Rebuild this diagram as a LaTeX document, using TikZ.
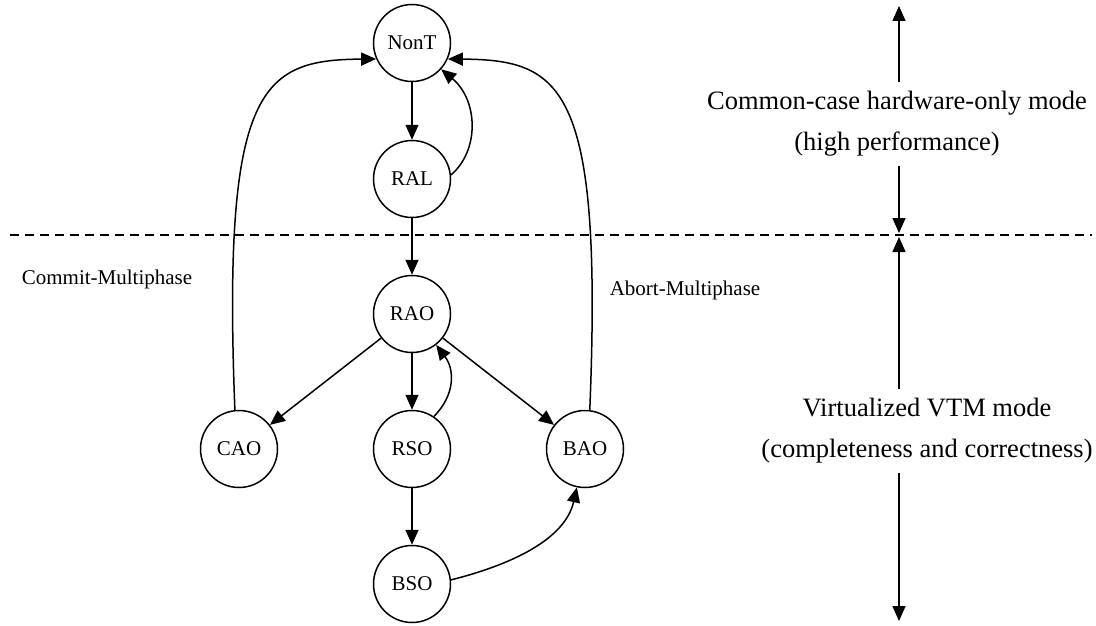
\documentclass[tikz,border=0pt]{standalone}
\usepackage{fontspec}
\setmainfont{Liberation Serif}
\usetikzlibrary{arrows.meta}
\begin{document}
\begin{tikzpicture}[x=1pt,y=-1pt,
  st/.style={circle,draw,line width=1.5pt,minimum size=77pt,inner sep=0pt,font=\fontsize{21}{25}\selectfont},
  edge/.style={line width=1.5pt,-{Triangle[length=15pt,width=13pt]}},
  lab/.style={font=\fontsize{21}{25}\selectfont,inner sep=0pt},
  side/.style={font=\fontsize{26.5}{41}\selectfont,align=center,inner xsep=0pt,inner ysep=9pt},
  sep/.style={line width=1.2pt,dash pattern=on 9pt off 6pt}]
\useasboundingbox (0,0) rectangle (1096,626);

% separator
\coordinate (dl) at (10,235);
\coordinate (dr) at (1092,235);
\draw[sep] (dl) -- (dr);

% states
\node[st] (NonT) at (412,43)  {NonT};
\node[st] (RAL)  at (412,179) {RAL};
\node[st] (RAO)  at (412,314) {RAO};
\node[st] (RSO)  at (412,449) {RSO};
\node[st] (BSO)  at (412,584) {BSO};
\node[st] (CAO)  at (239,449) {CAO};
\node[st] (BAO)  at (585,449) {BAO};

% straight transitions
\draw[edge] (NonT) -- (RAL);
\draw[edge] (RAL) -- (RAO);
\draw[edge] (RAO) -- (RSO);
\draw[edge] (RSO) -- (BSO);
\draw[edge] (RAO) -- (CAO);
\draw[edge] (RAO) -- (BAO);

% curved transitions
\draw[edge] (RAL.6) .. controls (480,150) and (478,100) .. (NonT.-42);
\draw[edge] (RSO.56) .. controls (455,395) and (455,370) .. (RAO.-52);
\draw[edge] (BSO.6) .. controls (510,565) and (565,540) .. (BAO.-102);
\draw[edge] (CAO.96) .. controls (222,85) and (262,60) .. (NonT.204);
\draw[edge] (BAO.83) .. controls (603,85) and (562,60) .. (NonT.-24);

% edge labels
\node[lab] (cm) at (107,279) {Commit-Multiphase};
\node[lab] (am) at (685,290) {Abort-Multiphase};

% mode annotations
\node[side] (hw) at (897,124) {Common-case hardware-only mode\\(high performance)};
\node[side] (vt) at (927,431) {Virtualized VTM mode\\(completeness and correctness)};
\coordinate (t1) at (899,6);
\coordinate (t2) at (899,233);
\coordinate (t3) at (899,237);
\coordinate (t4) at (899,621);
\draw[edge] (hw.north -| t1) -- (t1);
\draw[edge] (hw.south -| t2) -- (t2);
\draw[edge] (vt.north -| t3) -- (t3);
\draw[edge] (vt.south -| t4) -- (t4);
\end{tikzpicture}
\end{document}
